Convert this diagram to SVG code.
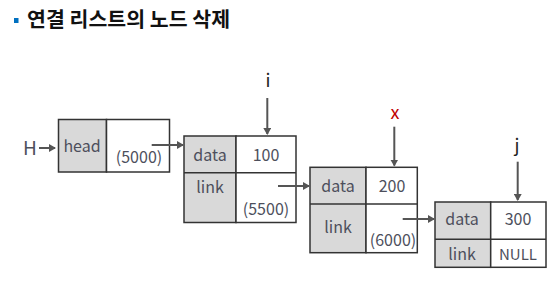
<svg xmlns="http://www.w3.org/2000/svg" width="556" height="287" viewBox="0 0 556 287">
<style>
.t{font-family:"Noto Sans CJK KR","Noto Sans",sans-serif;fill:#4d4f5c;font-size:16px;text-anchor:middle}
.p{font-family:"Noto Sans CJK KR","Noto Sans",sans-serif;fill:#222;font-size:18px;text-anchor:middle}
.box{fill:#fff;stroke:#333;stroke-width:1.5}
.g{fill:#d9d9d9;stroke:#333;stroke-width:1.5}
.c{stroke:#555;stroke-width:2;fill:none;marker-end:url(#ah)}
</style>
<defs>
<marker id="ah" markerWidth="8" markerHeight="8" refX="6" refY="4" orient="auto" markerUnits="userSpaceOnUse">
<path d="M0,0 L7,4 L0,8 Z" fill="#555"/>
</marker>
</defs>
<rect x="14" y="18" width="4.5" height="5" fill="#0070c0"/>
<text x="27" y="27" font-family="'Noto Sans CJK KR',sans-serif" font-weight="bold" font-size="20.5" fill="#111" textLength="203" lengthAdjust="spacing">연결 리스트의 노드 삭제</text>

<g id="head">
<rect class="g" x="58.5" y="119.5" width="48" height="52.5"/>
<rect class="box" x="106.5" y="119.5" width="63" height="52.5"/>
<text class="t" x="82" y="152">head</text>
<text class="t" x="139" y="163">(5000)</text>
</g>
<g id="node1">
<rect class="g" x="184" y="136" width="52" height="86.5"/>
<rect class="box" x="236" y="136" width="60" height="86.5"/>
<line x1="184" y1="172.7" x2="296" y2="172.7" stroke="#333" stroke-width="1.5"/>
<text class="t" x="210" y="161">data</text>
<text class="t" x="266" y="161">100</text>
<text class="t" x="210" y="193">link</text>
<text class="t" x="266" y="215">(5500)</text>
</g>
<g id="node2">
<rect class="g" x="310" y="167.3" width="56" height="85.4"/>
<rect class="box" x="366" y="167.3" width="51.3" height="85.4"/>
<line x1="310" y1="204" x2="417.3" y2="204" stroke="#333" stroke-width="1.5"/>
<text class="t" x="338" y="192">data</text>
<text class="t" x="392" y="192">200</text>
<text class="t" x="338" y="233">link</text>
<text class="t" x="393" y="246">(6000)</text>
</g>
<g id="node3">
<rect class="g" x="435" y="202" width="55.7" height="65.3"/>
<rect class="box" x="490.7" y="202" width="55.3" height="65.3"/>
<line x1="435" y1="239.3" x2="546" y2="239.3" stroke="#333" stroke-width="1.5"/>
<text class="t" x="462" y="225">data</text>
<text class="t" x="518" y="225">300</text>
<text class="t" x="462" y="260">link</text>
<text class="t" x="518" y="260" style="font-size:15px">NULL</text>
</g>
<g id="pointers">
<text class="t" x="30" y="155" style="font-size:19px">H</text>
<text class="p" x="268" y="87">i</text>
<text class="p" x="395" y="119" style="fill:#c00000">x</text>
<text class="p" x="517" y="152">j</text>
</g>
<g id="connectors">
<line class="c" x1="39" y1="148" x2="55" y2="148"/>
<line class="c" x1="151.7" y1="145" x2="183" y2="145"/>
<line class="c" x1="278" y1="186" x2="309" y2="186"/>
<line class="c" x1="402.7" y1="219" x2="434" y2="219"/>
<line class="c" x1="267.3" y1="98" x2="267.3" y2="134"/>
<line class="c" x1="394.3" y1="126.7" x2="394.3" y2="165.5"/>
<line class="c" x1="517.7" y1="161.7" x2="517.7" y2="200"/>
</g>
</svg>
